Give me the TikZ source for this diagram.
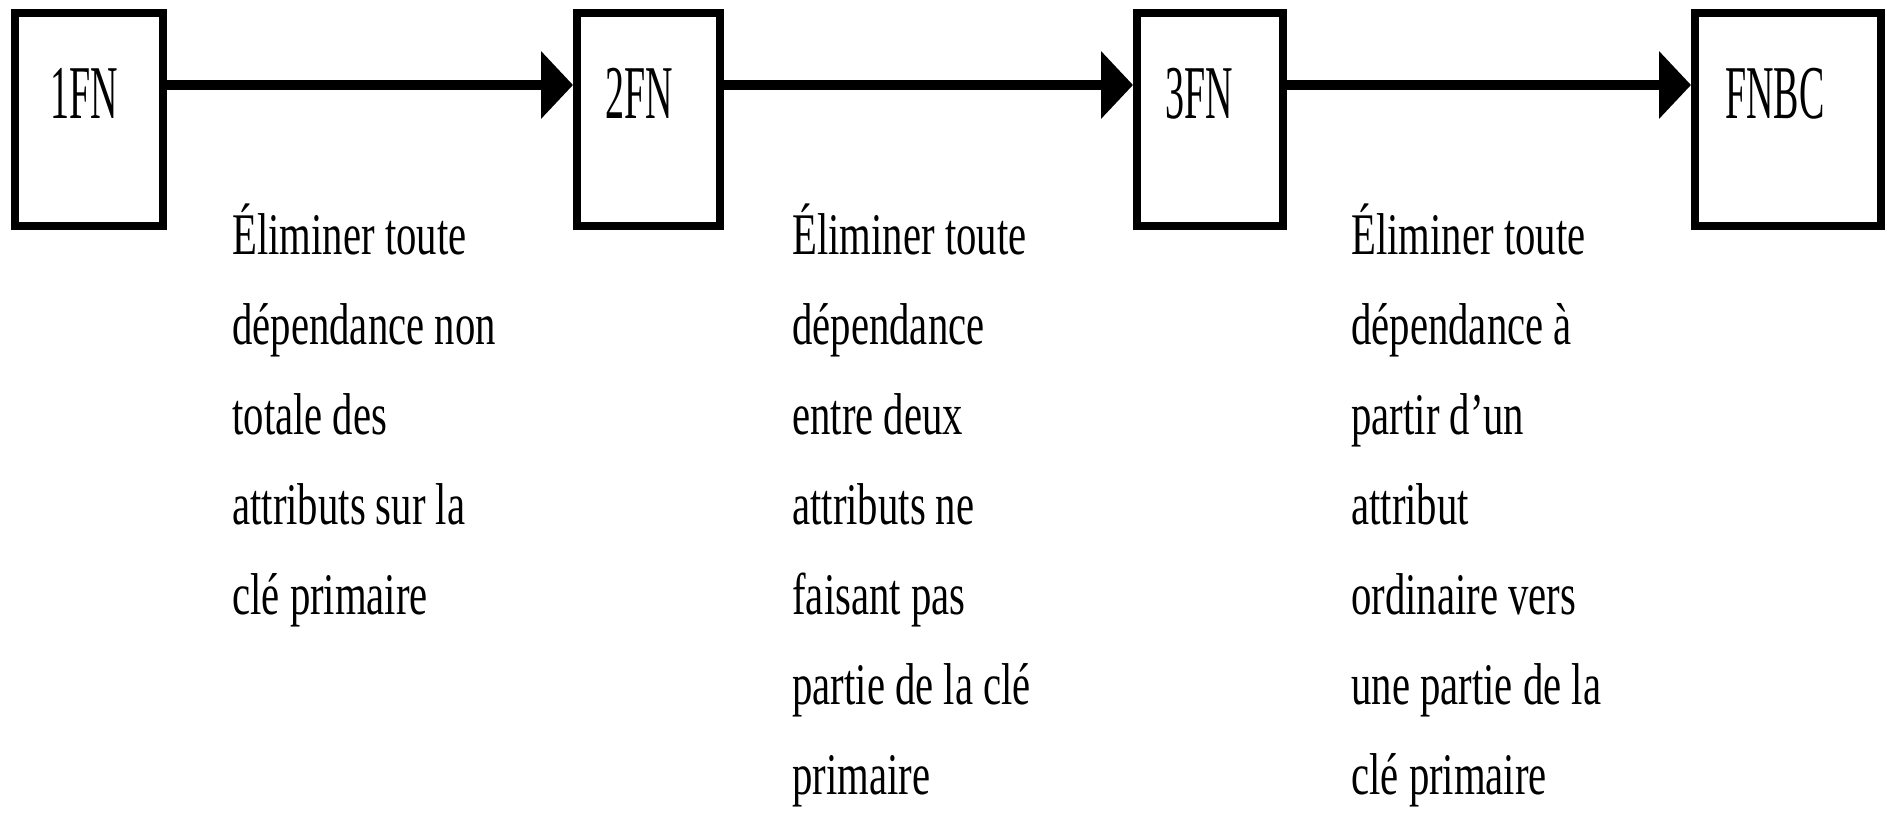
\documentclass[tikz,border=0pt]{standalone}
\usepackage{fontspec}
\usetikzlibrary{arrows.meta}
% Condensed serif faces for the box labels and the step descriptions
\newfontfamily\labfont[FakeStretch=0.5]{Liberation Serif}
\newfontfamily\descfont[FakeStretch=0.69]{Liberation Serif}
\begin{document}
\begin{tikzpicture}[x=0.5pt,y=-0.5pt,
  nfbox/.style={draw, line width=4pt, minimum height=106.5pt, inner sep=0pt},
  nflabel/.style={anchor=base west, inner sep=0pt,
    font=\labfont\fontsize{38pt}{40pt}\selectfont},
  desc/.style={anchor=base west, inner sep=0pt,
    font=\descfont\fontsize{29.5pt}{45pt}\selectfont},
  flow/.style={line width=5pt, -{Triangle[length=16pt,width=33pt]}}]
\useasboundingbox (0,0) rectangle (1887,814);

% normal forms
\node[nfbox, minimum width=74pt]   (fn1)  at (89,119.5)   {};
\node[nfbox, minimum width=71.5pt] (fn2)  at (648.5,119.5) {};
\node[nfbox, minimum width=73pt]   (fn3)  at (1210,119.5)  {};
\node[nfbox, minimum width=93pt]   (fnbc) at (1788,119.5)  {};

\node[nflabel] (l1) at (50,118)   {1FN};
\node[nflabel] (l2) at (605,118)  {2FN};
\node[nflabel] (l3) at (1165,118) {3FN};
\node[nflabel] (l4) at (1725,118) {FNBC};

% transitions
\draw[flow] ([yshift=17.25pt]fn1.east) -- ([yshift=17.25pt]fn2.west);
\draw[flow] ([yshift=17.25pt]fn2.east) -- ([yshift=17.25pt]fn3.west);
\draw[flow] ([yshift=17.25pt]fn3.east) -- ([yshift=17.25pt]fnbc.west);

% what each step removes
\node[desc] (d1) at (232,254) {\parbox[t]{170pt}{Éliminer toute\\
  dépendance non\\ totale des\\ attributs sur la\\ clé primaire}};
\node[desc] (d2) at (792,254) {\parbox[t]{170pt}{Éliminer toute\\
  dépendance\\ entre deux\\ attributs ne\\ faisant pas\\ partie de la clé\\ primaire}};
\node[desc] (d3) at (1351,254) {\parbox[t]{170pt}{Éliminer toute\\
  dépendance à\\ partir d’un\\ attribut\\ ordinaire vers\\ une partie de la\\ clé primaire}};
\end{tikzpicture}
\end{document}
